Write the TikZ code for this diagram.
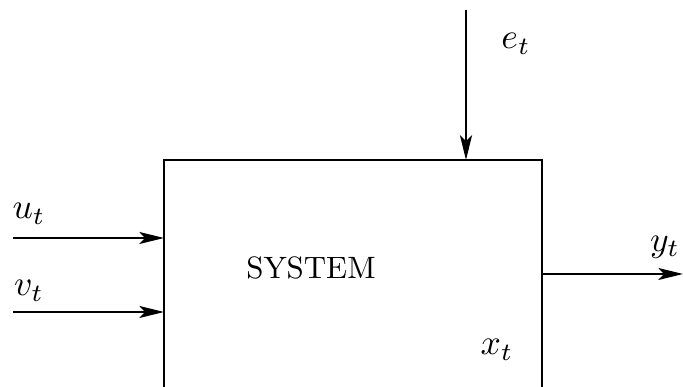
\documentclass[tikz,border=0pt]{standalone}
\usetikzlibrary{arrows.meta}
\begin{document}
\begin{tikzpicture}[x=0.3236pt,y=-0.3236pt,
  sig/.style={-{Stealth[length=8pt,width=3.9pt,inset=1.9pt]},line width=0.42pt},
  lab/.style={inner sep=0pt,anchor=center},
  mlab/.style={lab,scale=1.15}]
\useasboundingbox (0,0) rectangle (683,387);
% system box (its lower edge lies below the picture)
\coordinate (bl) at (164,387);
\coordinate (tl) at (164,160);
\coordinate (tr) at (542,160);
\coordinate (br) at (542,387);
\draw[line width=0.42pt] (bl) -- (tl) -- (tr) -- (br);
\node[lab] (sys) at (311,268) {SYSTEM};
\node[mlab] (xt) at (497,350) {$x_t$};
% inputs
\coordinate (us) at (13,238);
\coordinate (ue) at (164,238);
\draw[sig] (us) -- (ue);
\node[mlab] (ul) at (29,214) {$u_t$};
\coordinate (vs) at (13,312);
\coordinate (ve) at (164,312);
\draw[sig] (vs) -- (ve);
\node[mlab] (vl) at (29,291) {$v_t$};
% disturbance
\coordinate (es) at (466,10);
\coordinate (ee) at (466,160);
\draw[sig] (es) -- (ee);
\node[mlab] (el) at (516,44) {$e_t$};
% output
\coordinate (ys) at (542,274);
\coordinate (ye) at (683,274);
\draw[sig] (ys) -- (ye);
\node[mlab] (yl) at (665,247) {$y_t$};
\end{tikzpicture}
\end{document}
